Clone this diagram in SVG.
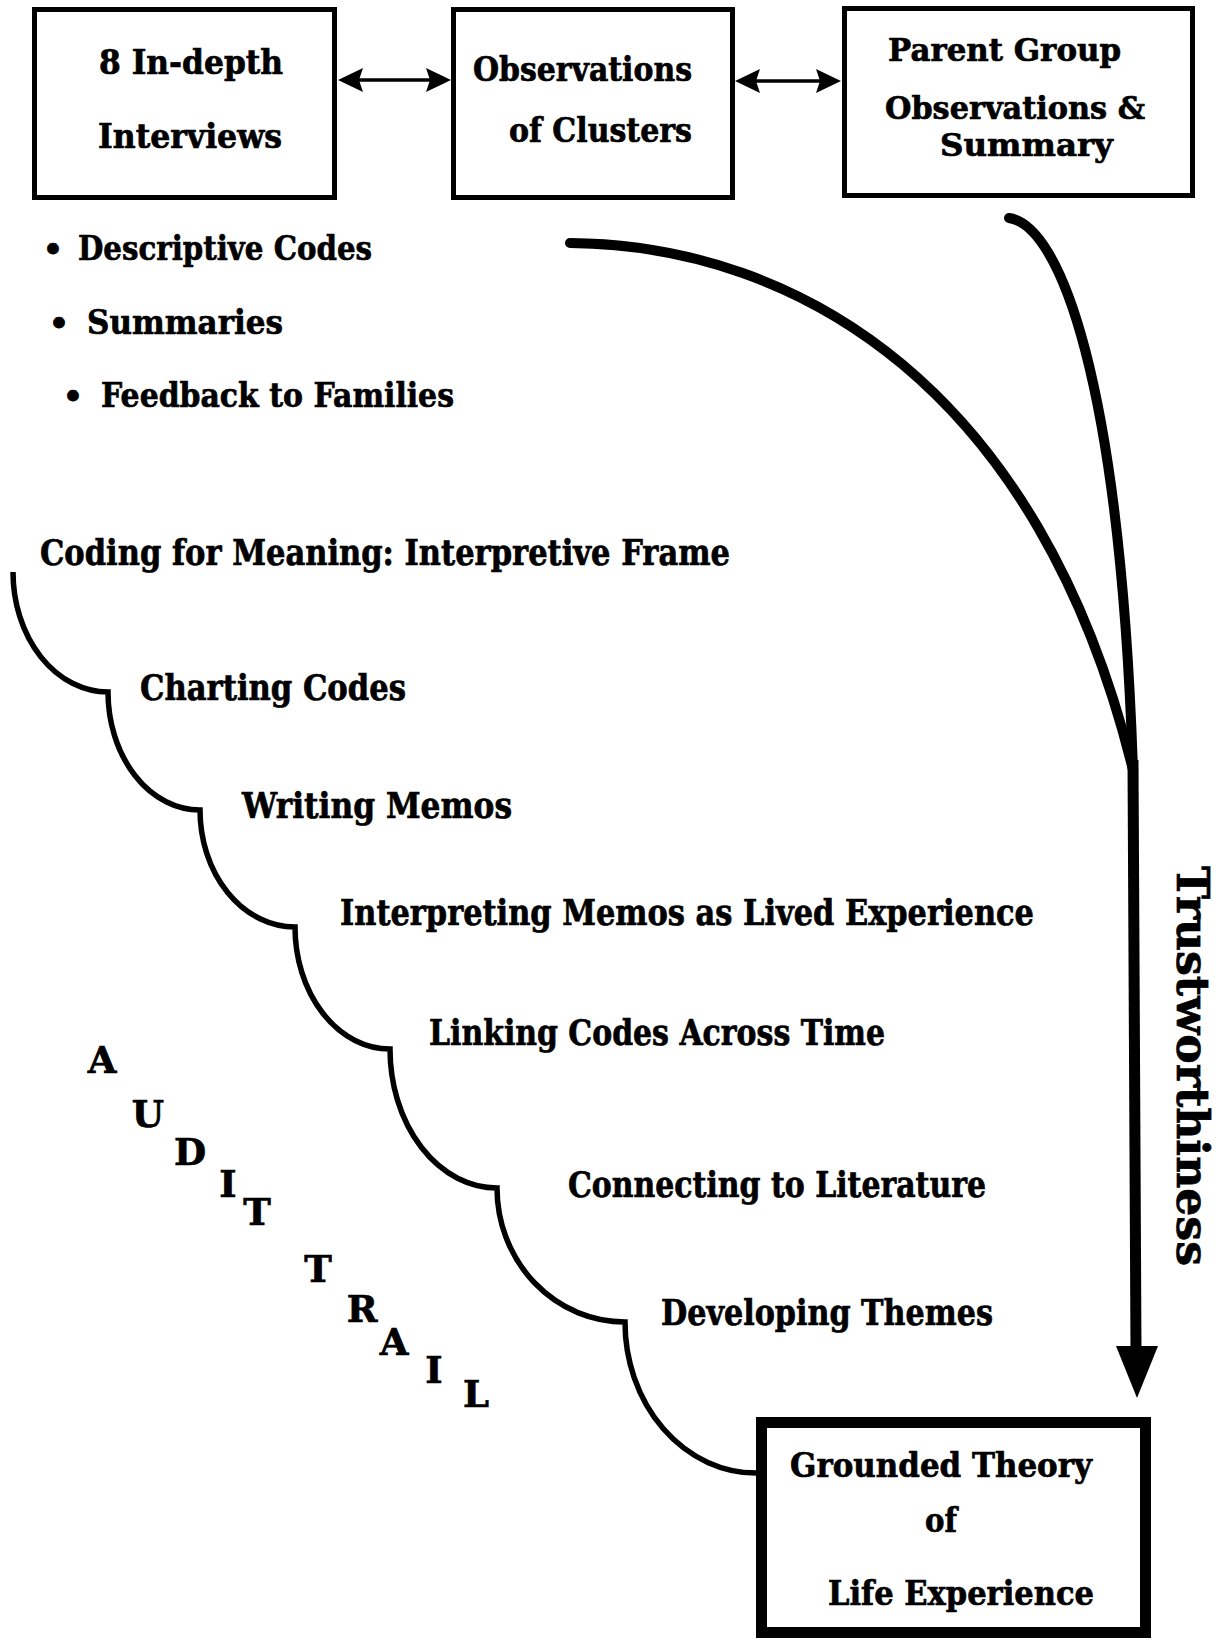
<svg xmlns="http://www.w3.org/2000/svg" width="1228" height="1640" viewBox="0 0 1228 1640">
<style>
.t{font-family:"DejaVu Serif","Liberation Serif",serif;font-weight:bold;fill:#000;stroke:#000;stroke-width:0.7}
.box{fill:#fff;stroke:#000;stroke-width:5}
.box4{fill:#fff;stroke:#000;stroke-width:11}
.thick{fill:none;stroke:#000;stroke-width:10;stroke-linecap:round}
.stair{fill:none;stroke:#000;stroke-width:5.5;stroke-linejoin:miter}
.thin{fill:none;stroke:#000;stroke-width:3.5}
.head{fill:#000}
.a{font-size:37px;text-anchor:middle}
</style>
<rect width="1228" height="1640" fill="#fff"/>
<g id="connectors">
  <line class="thin" x1="345" y1="80" x2="445" y2="80"/>
  <polygon class="head" points="338,80 363,68 359,80 363,92"/>
  <polygon class="head" points="451,80 426,68 430,80 426,92"/>
  <line class="thin" x1="742" y1="81" x2="835" y2="81"/>
  <polygon class="head" points="735,81 760,69 756,81 760,93"/>
  <polygon class="head" points="841,81 816,69 820,81 816,93"/>
  <path class="thick" d="M570 243 C800 245 1040 390 1133 770"/>
  <path class="thick" d="M1009 218 C1060 225 1120 380 1133 770"/>
  <path d="M1133 760 L1136 1352" fill="none" stroke="#000" stroke-width="11"/>
  <polygon class="head" points="1116,1346 1158,1346 1137,1398"/>
  <path class="stair" d="M13 572 A95 120 0 0 0 108 692 A92 118 0 0 0 200 810 A95 117 0 0 0 295 927 A95 122 0 0 0 390 1049 A107 139 0 0 0 497 1188 A128 134 0 0 0 625 1322 A131 151 0 0 0 756 1473"/>
</g>
<g id="interviews">
  <rect class="box" x="34.5" y="9.5" width="300" height="188"/>
  <text class="t" x="99" y="74" font-size="33" textLength="184" lengthAdjust="spacingAndGlyphs">8 In-depth</text>
  <text class="t" x="98" y="148" font-size="33" textLength="184" lengthAdjust="spacingAndGlyphs">Interviews</text>
</g>
<g id="observations">
  <rect class="box" x="453.5" y="9.5" width="279" height="188"/>
  <text class="t" x="473" y="81" font-size="33" textLength="219" lengthAdjust="spacingAndGlyphs">Observations</text>
  <text class="t" x="509" y="142" font-size="33" textLength="183" lengthAdjust="spacingAndGlyphs">of Clusters</text>
</g>
<g id="parent-group">
  <rect class="box" x="844.5" y="8.5" width="348" height="187"/>
  <text class="t" x="888" y="61" font-size="32" textLength="233" lengthAdjust="spacingAndGlyphs">Parent Group</text>
  <text class="t" x="885" y="119" font-size="32" textLength="260" lengthAdjust="spacingAndGlyphs">Observations &amp;</text>
  <text class="t" x="940" y="156" font-size="32" textLength="173" lengthAdjust="spacingAndGlyphs">Summary</text>
</g>
<g id="bullets">
  <text class="t" x="53" y="260" font-size="32" text-anchor="middle">•</text>
  <text class="t" x="78" y="260" font-size="34" textLength="294" lengthAdjust="spacingAndGlyphs">Descriptive Codes</text>
  <text class="t" x="59" y="334" font-size="32" text-anchor="middle">•</text>
  <text class="t" x="87" y="334" font-size="34" textLength="196" lengthAdjust="spacingAndGlyphs">Summaries</text>
  <text class="t" x="73" y="407" font-size="32" text-anchor="middle">•</text>
  <text class="t" x="101" y="407" font-size="34" textLength="353" lengthAdjust="spacingAndGlyphs">Feedback to Families</text>
</g>
<g id="steps">
  <text class="t" x="40" y="565" font-size="35" textLength="690" lengthAdjust="spacingAndGlyphs">Coding for Meaning: Interpretive Frame</text>
  <text class="t" x="140" y="700" font-size="35" textLength="266" lengthAdjust="spacingAndGlyphs">Charting Codes</text>
  <text class="t" x="242" y="818" font-size="35" textLength="270" lengthAdjust="spacingAndGlyphs">Writing Memos</text>
  <text class="t" x="340" y="925" font-size="35" textLength="694" lengthAdjust="spacingAndGlyphs">Interpreting Memos as Lived Experience</text>
  <text class="t" x="429" y="1045" font-size="35" textLength="456" lengthAdjust="spacingAndGlyphs">Linking Codes Across Time</text>
  <text class="t" x="568" y="1197" font-size="35" textLength="418" lengthAdjust="spacingAndGlyphs">Connecting to Literature</text>
  <text class="t" x="661" y="1325" font-size="35" textLength="332" lengthAdjust="spacingAndGlyphs">Developing Themes</text>
</g>
<g id="grounded-theory">
  <rect class="box4" x="761.5" y="1422.5" width="384" height="210"/>
  <text class="t" x="790" y="1477" font-size="33" textLength="302" lengthAdjust="spacingAndGlyphs">Grounded Theory</text>
  <text class="t" x="925" y="1532" font-size="33" textLength="32" lengthAdjust="spacingAndGlyphs">of</text>
  <text class="t" x="828" y="1605" font-size="33" textLength="266" lengthAdjust="spacingAndGlyphs">Life Experience</text>
</g>
<g id="trustworthiness">
  <text class="t" x="1177" y="866" font-size="44" textLength="400" lengthAdjust="spacingAndGlyphs" transform="rotate(90 1177 866)">Trustworthiness</text>
</g>
<g id="audit-trail">
  <text class="t a" x="102" y="1073">A</text>
  <text class="t a" x="148" y="1127">U</text>
  <text class="t a" x="190" y="1165">D</text>
  <text class="t a" x="228" y="1197">I</text>
  <text class="t a" x="257" y="1225">T</text>
  <text class="t a" x="318" y="1282">T</text>
  <text class="t a" x="362" y="1322">R</text>
  <text class="t a" x="394" y="1355">A</text>
  <text class="t a" x="434" y="1383">I</text>
  <text class="t a" x="476" y="1407">L</text>
</g>
</svg>
